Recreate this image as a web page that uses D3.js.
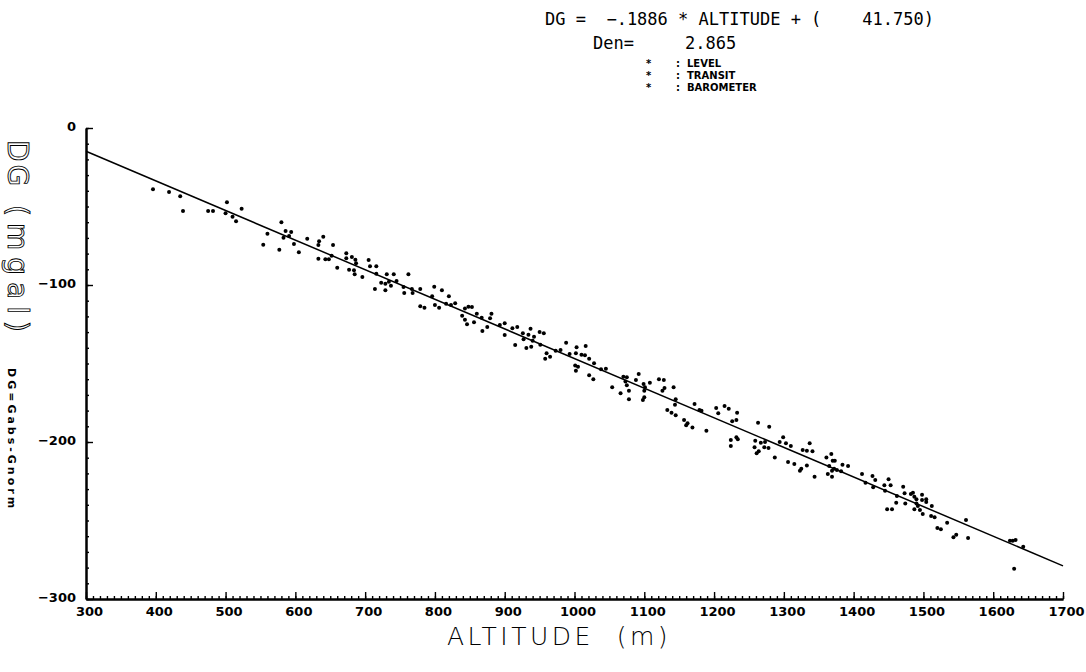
<!DOCTYPE html>
<html>
<head>
<meta charset="utf-8">
<script src="https://cdn.jsdelivr.net/npm/d3@7"></script>
<style>
  body { margin: 0; background: #fff; }
  svg { display: block; }
</style>
</head>
<body>
<div id="chart"></div>
<script>
// gravity anomaly vs altitude
const altitude = [
  396, 419, 435, 439, 475, 482, 502, 510, 515, 523, 500, 580, 586, 594, 591, 583, 560, 554, 577, 598,
  605, 617, 634, 633, 640, 633, 643, 648, 654, 652, 660, 673, 673, 681, 686, 687, 677, 684, 685, 696,
  705, 707, 716, 716, 731, 741, 723, 729, 734, 737, 745, 714, 729, 762, 755, 756, 767, 768, 779, 799,
  810, 820, 796, 779, 785, 800, 806, 816, 823, 829, 843, 848, 853, 860, 839, 843, 846, 856, 867, 879,
  881, 868, 875, 893, 900, 900, 911, 918, 915, 926, 934, 942, 950, 956, 937, 931, 938, 951, 927, 940,
  960, 965, 958, 973, 980, 988, 1003, 993, 1002, 1010, 1015, 1016, 1021, 1001, 1005, 1002, 1021, 1027, 1028, 1038,
  1045, 1054, 1066, 1070, 1075, 1073, 1075, 1078, 1078, 1088, 1092, 1099, 1101, 1100, 1108, 1121, 1128, 1126, 1129, 1142,
  1098, 1100, 1145, 1144, 1133, 1139, 1145, 1157, 1162, 1160, 1169, 1172, 1179, 1182, 1189, 1203, 1206, 1215, 1221, 1233,
  1226, 1232, 1224, 1224, 1232, 1234, 1263, 1279, 1259, 1267, 1273, 1272, 1258, 1278, 1261, 1264, 1287, 1294, 1299, 1303,
  1310, 1306, 1315, 1327, 1333, 1337, 1341, 1333, 1325, 1323, 1344, 1361, 1368, 1370, 1373, 1365, 1372, 1369, 1363, 1369,
  1376, 1384, 1392, 1382, 1412, 1417, 1427, 1431, 1428, 1444, 1450, 1453, 1445, 1462, 1461, 1455, 1448, 1471, 1473, 1474,
  1482, 1485, 1487, 1490, 1498, 1498, 1490, 1492, 1487, 1495, 1499, 1504, 1504, 1511, 1512, 1516, 1534, 1520, 1525, 1543,
  1547, 1561, 1564, 1624, 1628, 1632, 1643, 1630
];
const dg = [
  -39.0, -40.8, -43.5, -52.9, -52.9, -52.9, -47.3, -56.5, -59.4, -51.4, -54.3, -60.1, -65.6, -66.2, -68.8, -69.9, -67.3, -74.3, -77.5, -73.9,
  -79.2, -70.5, -72.2, -74.5, -69.2, -83.3, -83.6, -83.6, -74.5, -81.3, -89.0, -79.8, -83.0, -82.2, -83.9, -86.2, -90.3, -90.6, -93.2, -94.9,
  -84.1, -88.1, -88.1, -92.8, -93.2, -93.2, -98.5, -99.2, -97.9, -100.5, -97.5, -102.6, -103.4, -93.2, -101.3, -105.1, -102.6, -105.1, -102.6, -101.1,
  -103.4, -107.2, -107.2, -113.6, -114.5, -112.7, -114.5, -111.9, -112.7, -111.7, -114.9, -113.8, -114.0, -118.3, -119.6, -122.1, -125.0, -123.8, -120.8, -121.2,
  -118.3, -129.3, -126.8, -125.5, -124.4, -131.9, -127.6, -126.8, -138.2, -130.8, -131.7, -132.9, -130.0, -130.8, -127.8, -140.1, -139.3, -138.0, -134.6, -135.5,
  -143.5, -145.7, -147.0, -141.9, -141.4, -136.8, -139.7, -144.0, -143.5, -144.4, -144.8, -138.9, -147.0, -151.2, -152.1, -154.6, -157.5, -160.1, -149.9, -153.7,
  -153.3, -165.2, -169.0, -158.4, -158.8, -161.4, -163.9, -167.3, -172.8, -160.5, -156.7, -163.1, -165.2, -167.3, -162.2, -160.1, -160.5, -167.3, -165.6, -165.2,
  -173.3, -171.5, -172.8, -176.3, -179.6, -181.4, -183.0, -186.0, -188.1, -189.4, -190.7, -175.8, -179.6, -180.1, -192.8, -178.4, -181.7, -177.1, -178.8, -181.4,
  -186.8, -186.0, -198.7, -202.6, -197.0, -198.3, -187.7, -190.3, -199.2, -200.5, -200.0, -203.4, -203.4, -203.8, -207.2, -205.9, -209.8, -200.0, -197.0, -200.8,
  -202.6, -212.8, -214.0, -205.1, -205.6, -200.8, -205.9, -214.9, -217.0, -218.3, -222.1, -209.8, -207.7, -211.9, -211.9, -215.3, -217.0, -218.3, -220.4, -222.1,
  -217.9, -214.5, -215.3, -218.7, -220.4, -225.9, -221.7, -224.2, -228.9, -227.6, -223.8, -227.6, -231.0, -234.4, -238.7, -242.9, -242.9, -228.5, -232.7, -239.1,
  -233.1, -232.3, -234.9, -236.5, -233.6, -237.0, -239.1, -240.8, -242.9, -243.3, -245.9, -238.2, -236.5, -247.2, -240.8, -248.0, -251.4, -254.8, -255.6, -260.7,
  -259.1, -249.7, -261.2, -262.9, -262.9, -262.4, -266.7, -280.7
];
const xTicks = [300, 400, 500, 600, 700, 800, 900, 1000, 1100, 1200, 1300, 1400, 1500, 1600, 1700];
const yTicks = [0, -100, -200, -300];
const slope = -0.1886, intercept = 41.750, den = 2.865;
const legendItems = ["LEVEL", "TRANSIT", "BAROMETER"];

const width = 1086, height = 672;
const mono = "'DejaVu Sans Mono', monospace";
const sans = "'DejaVu Sans', sans-serif";

const svg = d3.select("#chart").append("svg")
  .attr("width", width)
  .attr("height", height);

const x = d3.scaleLinear().domain([300, 1700]).range([86, 1063]);
const y = d3.scaleLinear().domain([-300, 0]).range([599, 128]);

// axes: ticks point inward, minor ticks every 10
const xMinor = svg.append("g")
  .attr("transform", `translate(0,${y(-300)})`)
  .call(d3.axisBottom(x).tickValues(d3.range(300, 1701, 10)).tickSizeInner(-3).tickSizeOuter(0).tickFormat(""));
const xMajor = svg.append("g")
  .attr("transform", `translate(0,${y(-300)})`)
  .call(d3.axisBottom(x).tickValues(xTicks).tickSizeInner(-7).tickSizeOuter(0).tickPadding(8).tickFormat(d3.format("d")));

const yMinor = svg.append("g")
  .attr("transform", `translate(${x(300)},0)`)
  .call(d3.axisLeft(y).tickValues(d3.range(-300, 1, 10)).tickSizeInner(-3).tickSizeOuter(0).tickFormat(""));
const yMajor = svg.append("g")
  .attr("transform", `translate(${x(300)},0)`)
  .call(d3.axisLeft(y).tickValues(yTicks).tickSizeInner(-7).tickSizeOuter(0).tickPadding(10).tickFormat(d3.format("d")));

[xMinor, xMajor, yMinor, yMajor].forEach(g => {
  g.select(".domain").attr("stroke", "#000").attr("stroke-width", 2);
  g.selectAll(".tick line").attr("stroke", "#000").attr("stroke-width", 1.4);
  g.selectAll(".tick text")
    .attr("fill", "#000")
    .style("font-family", sans)
    .style("font-weight", "bold")
    .style("font-size", "13px");
});
xMajor.selectAll(".tick text").attr("dx", 3);
yMajor.selectAll(".tick text").attr("dy", "0.2em");

// fitted line
svg.append("line")
  .attr("x1", x(300)).attr("y1", y(slope * 300 + intercept))
  .attr("x2", x(1700)).attr("y2", y(slope * 1700 + intercept))
  .attr("stroke", "#000")
  .attr("stroke-width", 1.5);

// observations
svg.append("g").selectAll("circle")
  .data(altitude.map((a, i) => [a, dg[i]]))
  .join("circle")
  .attr("cx", d => x(d[0]))
  .attr("cy", d => y(d[1]))
  .attr("r", 2)
  .attr("fill", "#000");

// header
const head = svg.append("g")
  .style("font-family", mono)
  .style("font-size", "17px")
  .attr("fill", "#000");
head.append("text").attr("x", 545).attr("y", 25).attr("xml:space", "preserve")
  .text(`DG =  ${d3.format(".4f")(slope).replace("0.", ".")} * ALTITUDE + (    ${d3.format(".3f")(intercept)})`);
head.append("text").attr("x", 593).attr("y", 49).attr("xml:space", "preserve")
  .text(`Den=     ${d3.format(".3f")(den)}`);

const legend = svg.append("g")
  .style("font-family", sans)
  .style("font-weight", "bold")
  .style("font-size", "10px")
  .attr("fill", "#000");
legendItems.forEach((name, i) => {
  const row = legend.append("g").attr("transform", `translate(0,${67 + i * 12})`);
  row.append("text").attr("x", 646).text("*");
  row.append("text").attr("x", 676).text(":");
  row.append("text").attr("x", 687).text(name);
});

// axis titles
svg.append("text")
  .attr("x", 559).attr("y", 645)
  .attr("text-anchor", "middle")
  .attr("xml:space", "preserve")
  .style("font-family", sans)
  .style("font-weight", "200")
  .style("font-size", "25px")
  .style("letter-spacing", "3.5px")
  .attr("fill", "#000")
  .text("ALTITUDE  (m)");

const yTitle = svg.append("g")
  .style("font-family", sans)
  .style("font-size", "28px")
  .attr("fill", "none")
  .attr("stroke", "#000")
  .attr("stroke-width", 0.9);
yTitle.append("text")
  .attr("transform", "translate(8,140) rotate(90)")
  .style("letter-spacing", "3px")
  .text("DG");
yTitle.append("text")
  .attr("transform", "translate(8,205) rotate(90)")
  .style("letter-spacing", "7px")
  .text("(mgal)");

svg.append("text")
  .attr("transform", "translate(8,368) rotate(90)")
  .style("font-family", sans)
  .style("font-weight", "bold")
  .style("font-size", "11px")
  .style("letter-spacing", "3px")
  .attr("fill", "#000")
  .text("DG=Gabs-Gnorm");
</script>
</body>
</html>
